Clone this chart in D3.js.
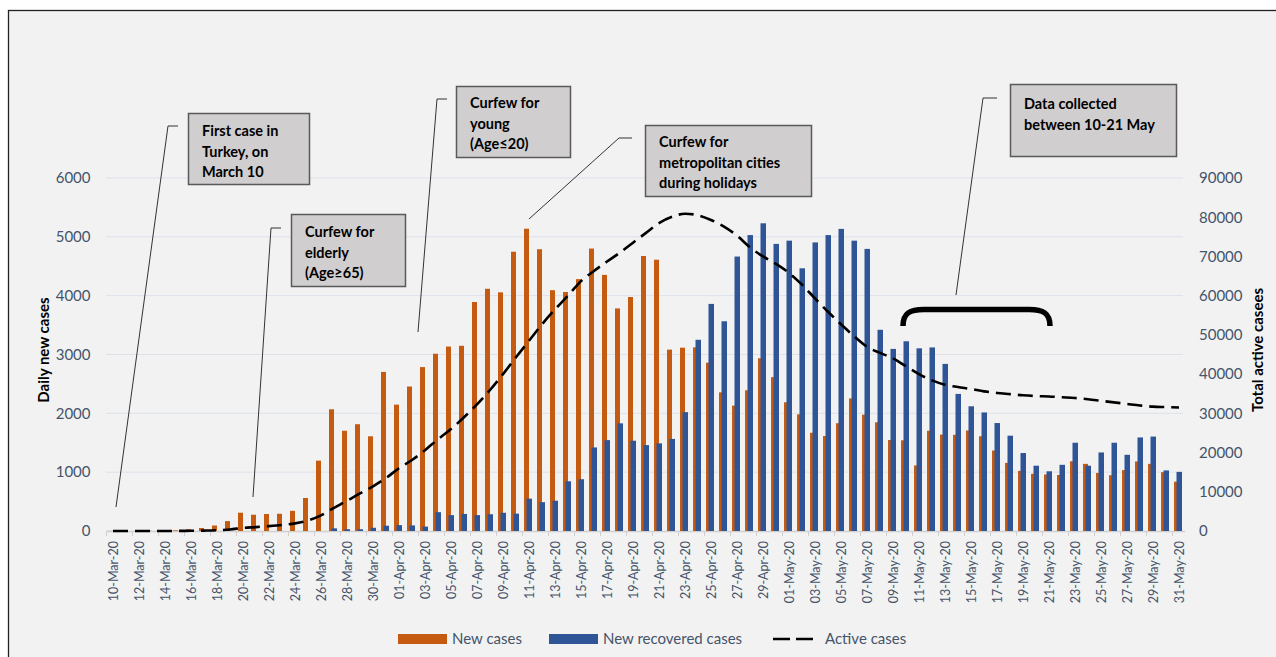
<!DOCTYPE html>
<html><head><meta charset="utf-8">
<script src="https://cdn.jsdelivr.net/npm/d3@7"></script>
<style>html,body{margin:0;padding:0;background:#fff;} svg{display:block;}</style>
</head><body>
<svg id="chart" width="1276" height="657"></svg>
<script>
// ---------------- DATA ----------------
const dates = [
"10-Mar-20","11-Mar-20","12-Mar-20","13-Mar-20","14-Mar-20","15-Mar-20","16-Mar-20","17-Mar-20","18-Mar-20","19-Mar-20",
"20-Mar-20","21-Mar-20","22-Mar-20","23-Mar-20","24-Mar-20","25-Mar-20","26-Mar-20","27-Mar-20","28-Mar-20","29-Mar-20",
"30-Mar-20","31-Mar-20",
"01-Apr-20","02-Apr-20","03-Apr-20","04-Apr-20","05-Apr-20","06-Apr-20","07-Apr-20","08-Apr-20","09-Apr-20","10-Apr-20",
"11-Apr-20","12-Apr-20","13-Apr-20","14-Apr-20","15-Apr-20","16-Apr-20","17-Apr-20","18-Apr-20","19-Apr-20","20-Apr-20",
"21-Apr-20","22-Apr-20","23-Apr-20","24-Apr-20","25-Apr-20","26-Apr-20","27-Apr-20","28-Apr-20","29-Apr-20","30-Apr-20",
"01-May-20","02-May-20","03-May-20","04-May-20","05-May-20","06-May-20","07-May-20","08-May-20","09-May-20","10-May-20",
"11-May-20","12-May-20","13-May-20","14-May-20","15-May-20","16-May-20","17-May-20","18-May-20","19-May-20","20-May-20",
"21-May-20","22-May-20","23-May-20","24-May-20","25-May-20","26-May-20","27-May-20","28-May-20","29-May-20","30-May-20",
"31-May-20"];

const newCases = [
2,1,0,4,1,12,29,51,93,168,
311,277,289,293,343,561,1196,2069,1704,1815,
1610,2704,
2148,2456,2786,3013,3135,3148,3892,4117,4056,4747,
5138,4789,4093,4062,4281,4801,4353,3783,3977,4674,
4611,3083,3116,3122,2861,2357,2131,2392,2936,2615,
2188,1983,1670,1614,1832,2253,1977,1848,1546,1542,
1114,1704,1639,1635,1708,1610,1368,1158,1022,972,
961,952,1186,1141,987,948,1035,1182,1141,1000,
839];

const newRecovered = [
0,0,0,0,0,0,0,0,0,0,
0,0,0,0,0,0,0,45,30,30,
55,90,
100,95,75,320,270,290,270,285,310,295,
550,490,515,845,880,1420,1545,1830,1535,1460,
1490,1565,2020,3250,3860,3565,4665,5030,5230,4880,
4935,4465,4905,5030,5135,4935,4795,3420,3095,3225,
3105,3120,2840,2330,2120,2015,1835,1620,1325,1110,
1015,1125,1500,1110,1335,1500,1295,1590,1605,1030,
1005];

const activeCases = [
0,1,1,5,6,18,47,98,190,400,
800,1000,1250,1550,1950,2700,4000,5900,7700,9600,
11400,13500,
16000,18100,20600,23400,26000,29000,32300,35950,40000,44300,
48500,52700,56500,60000,63700,66300,68700,71000,73500,76000,
78500,80100,80900,80500,79300,77600,75300,72300,70000,68100,
65800,62800,59300,55900,52700,49700,47000,45400,44000,42000,
40000,38400,37300,36700,36200,35600,35200,34900,34600,34400,
34300,34100,33900,33600,33200,32800,32400,32000,31700,31600,
31500];

const leftTicks = [0,1000,2000,3000,4000,5000,6000];
const rightTicks = [0,10000,20000,30000,40000,50000,60000,70000,80000,90000];
const seriesNames = ["New cases","New recovered cases","Active cases"];
const leftTitle = "Daily new cases";
const rightTitle = "Total active casees";
const noteTexts = [
  ["First case in","Turkey, on","March 10"],
  ["Curfew for","elderly","(Age\u226565)"],
  ["Curfew for","young","(Age\u226420)"],
  ["Curfew for","metropolitan cities","during holidays"],
  ["Data collected","between 10-21 May"]
];

// ---------------- LAYOUT ----------------
const C = {orange:"#c55a11", blue:"#2f5597", tick:"#44546a", grid:"#dce1ea", bg:"#f2f2f2"};
const FONT = "Lato, 'Open Sans', sans-serif";
const plot = {left:106.5, right:1185.5, top:178, bottom:531};

const svg = d3.select("#chart");
svg.append("rect").attr("x",0).attr("y",0).attr("width",1276).attr("height",657).attr("fill","#fff");
svg.append("rect").attr("x",8.5).attr("y",10.5).attr("width",1290).attr("height",700)
  .attr("fill",C.bg).attr("stroke","#222").attr("stroke-width",1.3);

const x = d3.scaleBand().domain(dates).range([plot.left, plot.right]).padding(0);
const cx = d => x(d) + x.bandwidth()/2;
const yL = d3.scaleLinear().domain([0,6000]).range([plot.bottom, plot.top]);
const yR = d3.scaleLinear().domain([0,90000]).range([plot.bottom, plot.top]);

// gridlines
svg.append("g").selectAll("line").data(leftTicks.slice(1)).join("line")
  .attr("x1",106).attr("x2",1183).attr("y1",d=>yL(d)).attr("y2",d=>yL(d))
  .attr("stroke",C.grid).attr("stroke-width",1);

// left axis labels
const gl = svg.append("g").attr("transform",`translate(${plot.left},0)`)
  .call(d3.axisLeft(yL).tickValues(leftTicks).tickFormat(d3.format("d")).tickSize(0).tickPadding(16));
gl.select(".domain").remove();
gl.selectAll("text").attr("font-family",FONT).attr("font-size",15).attr("fill",C.tick);

// right axis labels
const gr = svg.append("g").attr("transform",`translate(1185,0)`)
  .call(d3.axisRight(yR).tickValues(rightTicks).tickFormat(d3.format("d")).tickSize(0).tickPadding(14));
gr.select(".domain").remove();
gr.selectAll("text").attr("font-family",FONT).attr("font-size",15).attr("fill",C.tick);

// x axis
svg.append("line").attr("x1",106).attr("x2",1185).attr("y1",plot.bottom+0.5).attr("y2",plot.bottom+0.5)
  .attr("stroke","#d0d0d0").attr("stroke-width",1.5);
const labeled = dates.filter((d,i)=>i%2===0);
svg.append("g").selectAll("line").data(labeled).join("line")
  .attr("x1",d=>x(d)).attr("x2",d=>x(d)).attr("y1",plot.bottom).attr("y2",plot.bottom+5)
  .attr("stroke","#d0d0d0");
svg.append("g").selectAll("text").data(labeled).join("text")
  .attr("transform",d=>`translate(${cx(d)+4.5},541) rotate(-90)`)
  .attr("text-anchor","end").attr("font-family",FONT).attr("font-size",12.5).attr("fill",C.tick)
  .text(d=>d);

// bars
svg.append("g").selectAll("rect").data(dates).join("rect")
  .attr("x",d=>cx(d)-5).attr("width",5)
  .attr("y",(d,i)=>yL(newCases[i])).attr("height",(d,i)=>plot.bottom-yL(newCases[i]))
  .attr("fill",C.orange);
svg.append("g").selectAll("rect").data(dates).join("rect")
  .attr("x",d=>cx(d)-2.5).attr("width",5.5)
  .attr("y",(d,i)=>yL(newRecovered[i])).attr("height",(d,i)=>plot.bottom-yL(newRecovered[i]))
  .attr("fill",C.blue);

// active line
const line = d3.line().x((d,i)=>cx(dates[i])).y(d=>yR(d)).curve(d3.curveMonotoneX);
svg.append("path").datum(activeCases).attr("d",line)
  .attr("fill","none").attr("stroke","#000").attr("stroke-width",2.6).attr("stroke-dasharray","15,7");

// axis titles
svg.append("text").attr("transform","translate(49,350) rotate(-90)").attr("text-anchor","middle")
  .attr("font-family",FONT).attr("font-weight","bold").attr("font-size",15).attr("fill","#000").text(leftTitle);
svg.append("text").attr("transform","translate(1263,350) rotate(-90)").attr("text-anchor","middle")
  .attr("font-family",FONT).attr("font-weight","bold").attr("font-size",15).attr("fill","#000").text(rightTitle);

// annotations
const noteLayout = [
  {box:[188,113,121,71], tx:202, ty:136, lead:[[178,126],[168,126],[116,507]]},
  {box:[291,214,114,72], tx:305, ty:237, lead:[[281,228],[271,228],[253,497]]},
  {box:[456,86,114,71],  tx:470, ty:108, lead:[[447,99],[437,99],[418,332]]},
  {box:[645,125,166,71], tx:659, ty:147, lead:[[632,138],[619,138],[529,219]]},
  {box:[1010,84,166,72], tx:1024, ty:109, lead:[[997,98],[983,98],[956,295]]}
];
const ng = svg.append("g");
noteLayout.forEach((n,k)=>{
  ng.append("path").attr("d",d3.line()(n.lead)).attr("fill","none").attr("stroke","#333").attr("stroke-width",1);
  ng.append("rect").attr("x",n.box[0]+0.5).attr("y",n.box[1]+0.5).attr("width",n.box[2]).attr("height",n.box[3])
    .attr("fill","#d0cece").attr("stroke","#5a5a5a").attr("stroke-width",1.5);
  const t = ng.append("text").attr("font-family",FONT).attr("font-weight","bold").attr("font-size",14.5).attr("fill","#000");
  noteTexts[k].forEach((s,j)=>t.append("tspan").attr("x",n.tx).attr("y",n.ty+j*20.5).text(s));
});
// bracket
ng.append("path").attr("d","M903,326 C903,313 910,309.5 924,309.5 L1029,309.5 C1043,309.5 1050,313 1050,326")
  .attr("fill","none").attr("stroke","#000").attr("stroke-width",5.5);

// legend
const lg = svg.append("g").attr("font-family",FONT).attr("font-size",15).attr("fill",C.tick);
lg.append("rect").attr("x",398).attr("y",634).attr("width",49).attr("height",10).attr("fill",C.orange);
lg.append("text").attr("x",452).attr("y",644).text(seriesNames[0]);
lg.append("rect").attr("x",549).attr("y",634).attr("width",49).attr("height",10).attr("fill",C.blue);
lg.append("text").attr("x",603).attr("y",644).text(seriesNames[1]);
lg.append("line").attr("x1",773).attr("x2",815).attr("y1",639).attr("y2",639)
  .attr("stroke","#000").attr("stroke-width",2.6).attr("stroke-dasharray","17,6");
lg.append("text").attr("x",825).attr("y",644).text(seriesNames[2]);
</script>
</body></html>
